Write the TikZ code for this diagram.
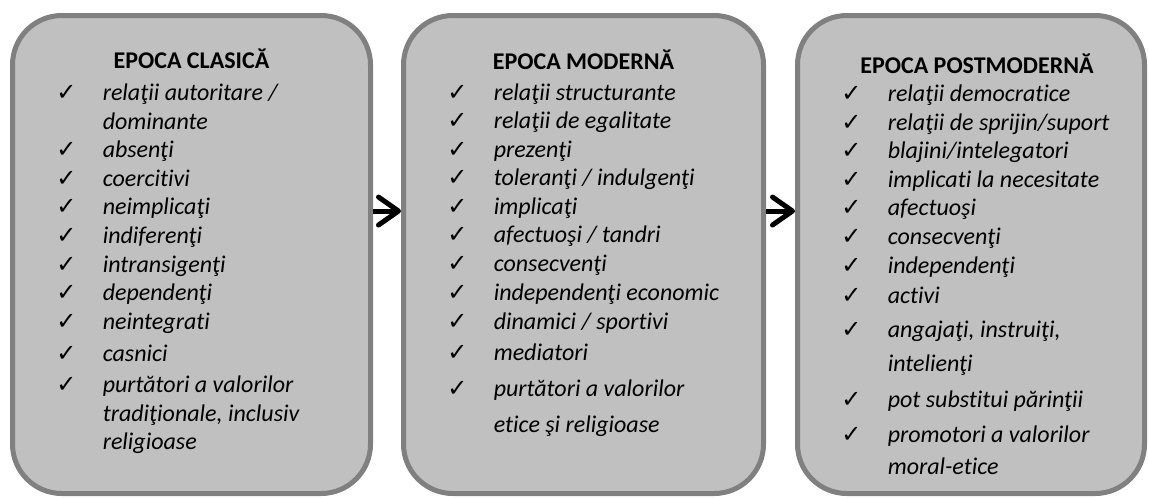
\documentclass[tikz,border=0pt]{standalone}
\usepackage{fontspec}
\setmainfont{Carlito}[Ligatures={NoCommon}]
\newfontfamily\chkfont{DejaVu Sans}
\usetikzlibrary{arrows.meta}
\definecolor{boxfill}{RGB}{192,192,192}
\definecolor{boxline}{RGB}{128,128,128}
\tikzset{
  epbox/.style={draw=boxline, fill=boxfill, line width=3.75pt, rounded corners=37pt, inner sep=0pt},
  eptitle/.style={anchor=base, inner sep=0pt, font=\fontsize{18pt}{21pt}\selectfont\bfseries},
  eptxt/.style={anchor=base west, inner sep=0pt, font=\fontsize{18pt}{21pt}\selectfont\itshape},
  epchk/.style={anchor=base west, inner sep=0pt, font=\fontsize{18pt}{20pt}\chkfont},
  eparr/.style={line width=3.75pt, -{Straight Barb[length=15pt,width=21pt,round]}}
}
\newcommand\eptext[4]{\node[eptxt] (#1) at (#2+90,#3) {#4};}
\newcommand\epcheck[3]{\node[epchk] (#1) at (#2+43.5,#3) {✓};}
\begin{document}
\begin{tikzpicture}[x=0.75pt,y=-0.75pt]
\useasboundingbox (0,0) rectangle (1149,497);
% boxes
\node[epbox, minimum width=268.5pt, minimum height=358.5pt] (b1) at (191.5,254.5) {};
\node[epbox, minimum width=270pt, minimum height=358.5pt] (b2) at (583.5,254.5) {};
\node[epbox, minimum width=260.25pt, minimum height=358.5pt] (b3) at (971,254.5) {};
% arrows
\draw[eparr] ([yshift=32.6pt]b1.east) -- ([yshift=32.6pt]b2.west);
\draw[eparr] ([yshift=32.6pt]b2.east) -- ([yshift=32.6pt]b3.west);
% titles
\node[eptitle] (t1) at (191.5,68) {EPOCA CLASICĂ};
\node[eptitle] (t2) at (583.5,69) {EPOCA MODERNĂ};
\node[eptitle] (t3) at (977,73) {EPOCA POSTMODERNĂ};
% box 1
\def\bx{12.5}
\epcheck{c11}{\bx}{100.5}\eptext{l11}{\bx}{100.5}{relaţii autoritare /}
\eptext{l11b}{\bx}{129}{dominante}
\epcheck{c12}{\bx}{157}\eptext{l12}{\bx}{157}{absenţi}
\epcheck{c13}{\bx}{186}\eptext{l13}{\bx}{186}{coercitivi}
\epcheck{c14}{\bx}{214.5}\eptext{l14}{\bx}{214.5}{neimplicaţi}
\epcheck{c15}{\bx}{243}\eptext{l15}{\bx}{243}{indiferenţi}
\epcheck{c16}{\bx}{272}\eptext{l16}{\bx}{272}{intransigenţi}
\epcheck{c17}{\bx}{300.5}\eptext{l17}{\bx}{300.5}{dependenţi}
\epcheck{c18}{\bx}{329.5}\eptext{l18}{\bx}{329.5}{neintegrati}
\epcheck{c19}{\bx}{361}\eptext{l19}{\bx}{361}{casnici}
\epcheck{c110}{\bx}{392}\eptext{l110}{\bx}{392}{purtători a valorilor}
\eptext{l110b}{\bx}{421}{tradiţionale, inclusiv}
\eptext{l110c}{\bx}{449.5}{religioase}
% box 2
\def\bx{403.5}
\epcheck{c21}{\bx}{100}\eptext{l21}{\bx}{100}{relaţii structurante}
\epcheck{c22}{\bx}{128.5}\eptext{l22}{\bx}{128.5}{relaţii de egalitate}
\epcheck{c23}{\bx}{157}\eptext{l23}{\bx}{157}{prezenţi}
\epcheck{c24}{\bx}{185.5}\eptext{l24}{\bx}{185.5}{toleranţi / indulgenţi}
\epcheck{c25}{\bx}{214}\eptext{l25}{\bx}{214}{implicaţi}
\epcheck{c26}{\bx}{242.5}\eptext{l26}{\bx}{242.5}{afectuoşi / tandri}
\epcheck{c27}{\bx}{271.5}\eptext{l27}{\bx}{271.5}{consecvenţi}
\epcheck{c28}{\bx}{300.5}\eptext{l28}{\bx}{300.5}{independenţi economic}
\epcheck{c29}{\bx}{329.5}\eptext{l29}{\bx}{329.5}{dinamici / sportivi}
\epcheck{c210}{\bx}{360}\eptext{l210}{\bx}{360}{mediatori}
\epcheck{c211}{\bx}{396}\eptext{l211}{\bx}{396}{purtători a valorilor}
\eptext{l211b}{\bx}{432}{etice şi religioase}
% box 3
\def\bx{797.5}
\epcheck{c31}{\bx}{101.5}\eptext{l31}{\bx}{101.5}{relaţii democratice}
\epcheck{c32}{\bx}{130}\eptext{l32}{\bx}{130}{relaţii de sprijin/suport}
\epcheck{c33}{\bx}{158.5}\eptext{l33}{\bx}{158.5}{blajini/intelegatori}
\epcheck{c34}{\bx}{187}\eptext{l34}{\bx}{187}{implicati la necesitate}
\epcheck{c35}{\bx}{215.5}\eptext{l35}{\bx}{215.5}{afectuoşi}
\epcheck{c36}{\bx}{244}\eptext{l36}{\bx}{244}{consecvenţi}
\epcheck{c37}{\bx}{273.5}\eptext{l37}{\bx}{273.5}{independenţi}
\epcheck{c38}{\bx}{303}\eptext{l38}{\bx}{303}{activi}
\epcheck{c39}{\bx}{337}\eptext{l39}{\bx}{337}{angajaţi, instruiţi,}
\eptext{l39b}{\bx}{371}{intelienţi}
\epcheck{c310}{\bx}{407}\eptext{l310}{\bx}{407}{pot substitui părinţii}
\epcheck{c311}{\bx}{442}\eptext{l311}{\bx}{442}{promotori a valorilor}
\eptext{l311b}{\bx}{474}{moral-etice}
\end{tikzpicture}
\end{document}
